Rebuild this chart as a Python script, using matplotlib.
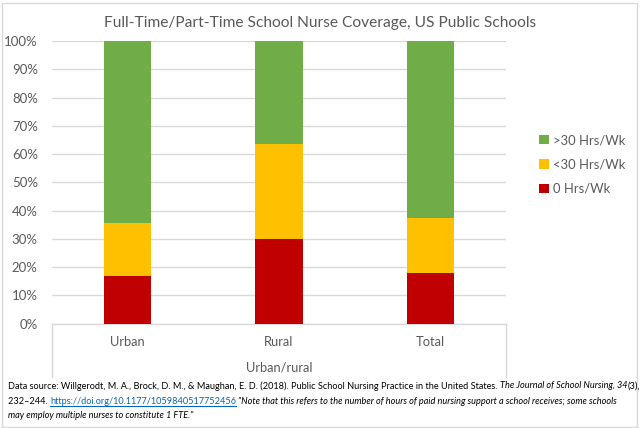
import matplotlib
matplotlib.use("Agg")
import matplotlib.pyplot as plt
from matplotlib.patches import Rectangle
from matplotlib.lines import Line2D

plt.rcParams['font.family'] = ['Lato', 'DejaVu Sans']

categories = ["Urban", "Rural", "Total"]
zero_hrs = [16.9, 30.1, 17.9]
under30 = [18.6, 33.5, 19.5]
over30 = [64.5, 36.4, 62.6]
series_labels = ["0 Hrs/Wk", "<30 Hrs/Wk", ">30 Hrs/Wk"]
series_colors = ["#C00000", "#FFC000", "#70AD47"]
yticks = [0, 10, 20, 30, 40, 50, 60, 70, 80, 90, 100]
title = "Full-Time/Part-Time School Nurse Coverage, US Public Schools"
xlabel = "Urban/rural"

W, H = 640, 428
fig = plt.figure(figsize=(W / 100, H / 100), dpi=100)
fig.patch.set_facecolor("white")

left, right, top, bottom = 51.7, 506, 41, 323.7
ax = fig.add_axes([left / W, 1 - bottom / H, (right - left) / W, (bottom - top) / H])

x = list(range(len(categories)))
bw = 0.313
b1 = ax.bar(x, zero_hrs, bw, color=series_colors[0], label=series_labels[0], zorder=3)
b2 = ax.bar(x, under30, bw, bottom=zero_hrs, color=series_colors[1], label=series_labels[1], zorder=3)
bot3 = [a + b for a, b in zip(zero_hrs, under30)]
b3 = ax.bar(x, over30, bw, bottom=bot3, color=series_colors[2], label=series_labels[2], zorder=3)

ax.set_xlim(-0.5, len(categories) - 0.5)
ax.set_ylim(0, 100)
ax.set_yticks(yticks)
ax.set_yticklabels([f"{v}%" for v in yticks])
ax.yaxis.grid(True, color="#D9D9D9", linewidth=1, zorder=0)
ax.set_axisbelow(True)
for s in ["left", "right", "top"]:
    ax.spines[s].set_visible(False)
ax.spines["bottom"].set_color("#D9D9D9")
ax.spines["bottom"].set_linewidth(1)
ax.tick_params(axis="y", length=0, pad=10, labelsize=9.5, labelcolor="#595959")
ax.set_xticks(x)
ax.set_xticklabels(categories)
ax.tick_params(axis="x", length=0, pad=9, labelsize=9.3, labelcolor="#595959")

# category box lines below axis
ext = -(376.7 - bottom) / (bottom - top)
for xa in (0, 1):
    ax.add_line(Line2D([xa, xa], [0, ext], transform=ax.transAxes, color="#D9D9D9",
                       linewidth=1, clip_on=False))

fig.text(((left + right) / 2) / W, 1 - 367 / H, xlabel, ha="center", va="center",
         fontsize=9.3, color="#595959")

fig.text(0.5, 1 - 22.5 / H, title, ha="center", va="center", fontsize=11.2, color="#595959")

leg = fig.legend(handles=[b3, b2, b1], labels=[series_labels[2], series_labels[1], series_labels[0]],
                 loc="center left", bbox_to_anchor=(539 / W, 1 - 164.5 / H), frameon=False,
                 borderpad=0, borderaxespad=0,
                 handlelength=0.75, handleheight=0.75, handletextpad=0.35, labelspacing=0.95,
                 fontsize=9.4)
for t in leg.get_texts():
    t.set_color("#595959")

# footnote with mixed styles
renderer = fig.canvas.get_renderer()
fs = 6.55


def runs(xpix, ypix, parts):
    cx = xpix
    for txt, style in parts:
        kw = dict(fontsize=fs, color="black", va="center", ha="left")
        if style == "i":
            kw["style"] = "italic"
        if style == "link":
            kw["color"] = "#0563C1"
        t = fig.text(cx / W, 1 - ypix / H, txt, **kw)
        bb = t.get_window_extent(renderer=renderer)
        if style == "link":
            fig.add_artist(Line2D([cx / W, (cx + bb.width) / W], [1 - (ypix + 5) / H] * 2,
                                  transform=fig.transFigure, color="#0563C1", linewidth=0.8))
        cx += bb.width


runs(8, 386, [("Data source: Willgerodt, M. A., Brock, D. M., & Maughan, E. D. (2018). Public School Nursing Practice in the United States. ", "n"),
              ("The Journal of School Nursing, 34", "i"), ("(3),", "n")])
runs(8, 401, [("232\u2013244. ", "n"), ("https://doi.org/10.1177/1059840517752456", "link"), (" ", "n"),
              ("\"Note that this refers to the number of hours of paid nursing support a school receives; some schools", "i")])
runs(8, 415, [("may employ multiple nurses to constitute 1 FTE.\"", "i")])

# chart border
fig.add_artist(Rectangle((2 / W, 1 / H), (W - 5) / W, (H - 4) / H, transform=fig.transFigure,
                         fill=False, edgecolor="#D9D9D9", linewidth=1))

fig.savefig("out.png", dpi=100)
